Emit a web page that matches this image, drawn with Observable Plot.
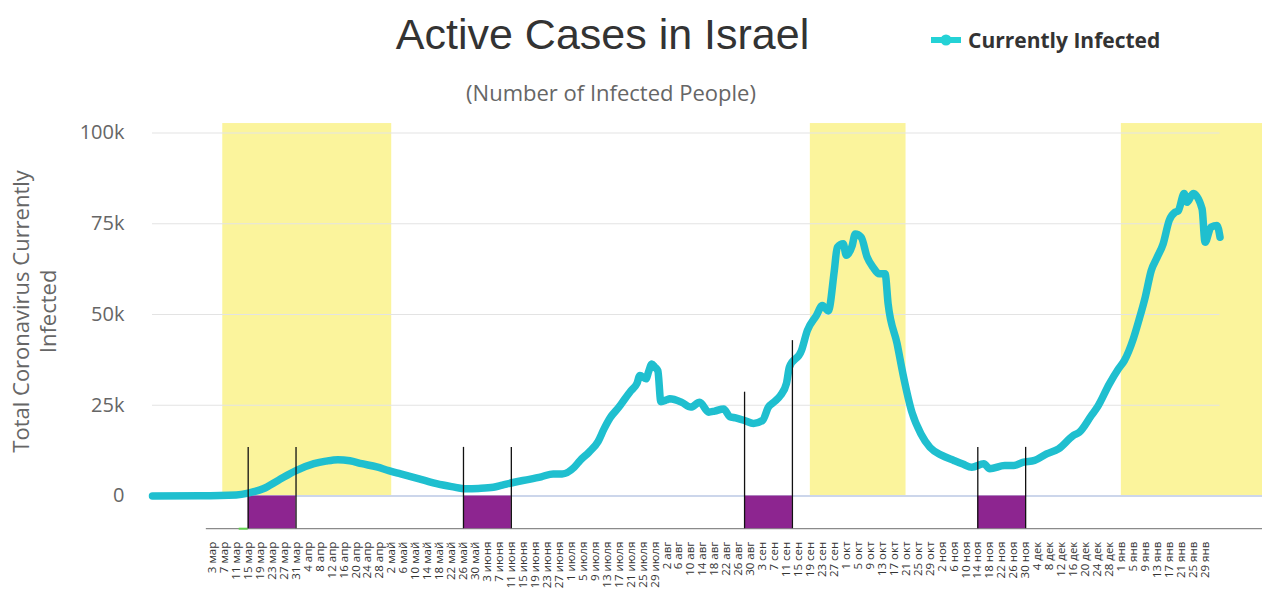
<!DOCTYPE html>
<html>
<head>
<meta charset="utf-8">
<script src="https://cdn.jsdelivr.net/npm/d3@7"></script>
<script src="https://cdn.jsdelivr.net/npm/@observablehq/plot@0.6"></script>
<style>
  html, body { margin: 0; padding: 0; background: #fff; }
  #wrap { position: relative; width: 1262px; height: 593px; overflow: hidden; font-family: "Open Sans", sans-serif; }
  #head { position: relative; height: 110px; }
  #title { position: absolute; left: 0; width: 1205px; top: 13px; text-align: center;
           font: 43px/43px "Liberation Sans", Arial, sans-serif; color: #333; }
  #legend { position: absolute; left: 930px; top: 26px; height: 28px; display: flex; align-items: center;
            font: 700 21px/28px "Open Sans", sans-serif; color: #333; }
  #legend svg { margin-right: 6px; }
  #subtitle { position: absolute; left: 0; width: 1222px; top: 78px; text-align: center;
              font: 22px/28px "Open Sans", sans-serif; color: #666; }
  #chart svg { display: block; }
</style>
</head>
<body>
<div id="wrap">
  <div id="head">
    <div id="title">Active Cases in Israel</div>
    <div id="legend">
      <svg width="32" height="14"><line x1="1" y1="7" x2="31" y2="7" stroke="#24d2d6" stroke-width="6"/><circle cx="16" cy="7" r="5.5" fill="#24d2d6"/></svg>
      <span>Currently Infected</span>
    </div>
    <div id="subtitle">(Number of Infected People)</div>
  </div>
  <div id="chart"></div>
</div>
<script>
// Active coronavirus cases in Israel (people currently infected)
const dates = ["2020-02-12","2020-02-28","2020-03-11","2020-03-15","2020-03-20","2020-03-25","2020-03-31","2020-04-06","2020-04-10","2020-04-14",
  "2020-04-18","2020-04-22","2020-04-27","2020-05-01","2020-05-05","2020-05-09","2020-05-13","2020-05-17","2020-05-22","2020-05-27",
  "2020-05-31","2020-06-05","2020-06-08","2020-06-12","2020-06-17","2020-06-21","2020-06-25","2020-06-28","2020-07-02","2020-07-04",
  "2020-07-07","2020-07-10","2020-07-12","2020-07-14","2020-07-17","2020-07-19","2020-07-21","2020-07-23","2020-07-24","2020-07-26",
  "2020-07-27","2020-07-28","2020-07-29","2020-07-30","2020-07-31","2020-08-02","2020-08-03","2020-08-07","2020-08-10","2020-08-13",
  "2020-08-16","2020-08-18","2020-08-21","2020-08-23","2020-08-25","2020-08-28","2020-08-31","2020-09-03","2020-09-05","2020-09-07",
  "2020-09-09","2020-09-11","2020-09-12","2020-09-16","2020-09-18","2020-09-21","2020-09-23","2020-09-25","2020-09-27","2020-09-28",
  "2020-09-30","2020-10-01","2020-10-03","2020-10-04","2020-10-06","2020-10-08","2020-10-10","2020-10-12","2020-10-14","2020-10-15",
  "2020-10-18","2020-10-20","2020-10-23","2020-10-26","2020-10-29","2020-11-02","2020-11-06","2020-11-09","2020-11-12","2020-11-16",
  "2020-11-18","2020-11-23","2020-11-26","2020-11-29","2020-12-03","2020-12-07","2020-12-11","2020-12-16","2020-12-18","2020-12-22",
  "2020-12-24","2020-12-28","2020-12-31","2021-01-02","2021-01-05","2021-01-07","2021-01-09","2021-01-11","2021-01-13","2021-01-15",
  "2021-01-17","2021-01-19","2021-01-20","2021-01-22","2021-01-23","2021-01-25","2021-01-28","2021-01-29","2021-01-31","2021-02-02",
  "2021-02-03"];
const infected = [0, 50, 300, 800, 2000, 4300, 7000, 8900, 9600, 10000,
  9700, 8900, 8000, 7000, 6100, 5200, 4300, 3400, 2600, 2000,
  2100, 2400, 3000, 3800, 4600, 5300, 6100, 6100, 7900, 9800,
  12100, 15000, 18500, 21500, 24500, 26800, 29000, 31000, 33200, 32300,
  34500, 36400, 35500, 34500, 26000, 26500, 26800, 25800, 24500, 25800,
  23100, 23400, 24000, 21900, 21500, 20800, 20000, 20800, 24500, 26000,
  27700, 31000, 35500, 40000, 45600, 49700, 52500, 51000, 62000, 68500,
  69500, 66300, 69000, 72200, 71300, 65800, 63000, 61200, 61200, 53000,
  42000, 33500, 23000, 17100, 13400, 11200, 9800, 8800, 7900, 8900,
  7500, 8400, 8400, 9300, 9800, 11600, 13000, 16700, 17600, 22200,
  24500, 30900, 35000, 37300, 43300, 48800, 54800, 62100, 65800, 69500,
  75900, 78200, 78500, 83300, 80900, 83300, 79100, 69900, 74100, 74500,
  71300];

// Lockdown periods (yellow bands)
const lockdownStart = ["2020-03-06T12:00Z", "2020-09-19", "2021-01-01"];
const lockdownEnd   = ["2020-05-02", "2020-10-21", "2021-02-18"];

// Two-week windows (purple blocks with bounding markers)
const windowStart    = ["2020-03-15", "2020-05-26", "2020-08-28", "2020-11-14"];
const windowEnd      = ["2020-03-31", "2020-06-11", "2020-09-13", "2020-11-30"];
const windowTopStart = [13400, 13400, 28600, 13400];
const windowTopEnd   = [13400, 13400, 42800, 13400];

// Axis ticks
const yTicks = [0, 25000, 50000, 75000, 100000];
const tickLabels = [
  "3 мар","7 мар","11 мар","15 мар","19 мар","23 мар","27 мар","31 мар",
  "4 апр","8 апр","12 апр","16 апр","20 апр","24 апр","28 апр",
  "2 май","6 май","10 май","14 май","18 май","22 май","26 май","30 май",
  "3 июня","7 июня","11 июня","15 июня","19 июня","23 июня","27 июня",
  "1 июля","5 июля","9 июля","13 июля","17 июля","21 июля","25 июля","29 июля",
  "2 авг","6 авг","10 авг","14 авг","18 авг","22 авг","26 авг","30 авг",
  "3 сен","7 сен","11 сен","15 сен","19 сен","23 сен","27 сен",
  "1 окт","5 окт","9 окт","13 окт","17 окт","21 окт","25 окт","29 окт",
  "2 ноя","6 ноя","10 ноя","14 ноя","18 ноя","22 ноя","26 ноя","30 ноя",
  "4 дек","8 дек","12 дек","16 дек","20 дек","24 дек","28 дек",
  "1 янв","5 янв","9 янв","13 янв","17 янв","21 янв","25 янв","29 янв"];
const monthIndex = {"янв": 0, "мар": 2, "апр": 3, "май": 4, "июня": 5, "июля": 6,
                    "авг": 7, "сен": 8, "окт": 9, "ноя": 10, "дек": 11};

const parse = s => new Date(s);
const series = dates.map((d, i) => ({date: parse(d), value: infected[i]}));
const lockdowns = lockdownStart.map((s, i) => ({start: parse(s), end: parse(lockdownEnd[i])}));
const windows = windowStart.map((s, i) => ({start: parse(s), end: parse(windowEnd[i])}));
const windowEdges = windows.flatMap((w, i) => [
  {date: w.start, top: windowTopStart[i]},
  {date: w.end, top: windowTopEnd[i]}
]);

const tickDates = tickLabels.map(t => {
  const [day, mon] = t.split(" ");
  const m = monthIndex[mon];
  return new Date(Date.UTC(m === 0 ? 2021 : 2020, m, +day));
});
const labelByTime = new Map(tickDates.map((d, i) => [+d, tickLabels[i]]));

const xStart = parse("2020-02-12");
const xEnd = parse("2021-02-17T05:00Z");
const firstDay = series[0].date;
const lastDay = series[series.length - 1].date;
const yMin = -9000, yMax = 103000, bandTop = 102600;

const chart = Plot.plot({
  width: 1262,
  height: 483,
  marginLeft: 152,
  marginRight: 0,
  marginTop: 11.6,
  marginBottom: 64.8,
  style: {fontFamily: '"Open Sans", sans-serif', background: "#fff", overflow: "visible"},
  x: {type: "utc", domain: [xStart, xEnd]},
  y: {domain: [yMin, yMax]},
  marks: [
    Plot.rect(lockdowns, {x1: "start", x2: "end", y1: 0, y2: bandTop, fill: "#fbf49c", clip: true}),
    Plot.ruleY(yTicks.slice(1), {x1: () => firstDay, x2: () => lastDay, stroke: "#e3e3e3", strokeWidth: 1.2}),
    Plot.ruleY([0], {x1: () => firstDay, x2: () => xEnd, stroke: "#ccd6eb", strokeWidth: 2}),
    Plot.ruleY([yMin], {x1: () => parse("2020-03-01"), x2: () => xEnd, stroke: "#8a8a8a", strokeWidth: 1.2}),
    Plot.ruleY([yMin], {x1: () => parse("2020-03-12"), x2: () => parse("2020-03-15"), stroke: "#5fd04c", strokeWidth: 2}),
    Plot.rect(windows, {x1: "start", x2: "end", y1: yMin, y2: 0, fill: "#8d2590"}),
    Plot.line(series, {x: "date", y: "value", stroke: "#1fbfcf", strokeWidth: 7.5,
                       curve: "monotone-x", strokeLinejoin: "round", strokeLinecap: "round"}),
    Plot.ruleX(windowEdges, {x: "date", y1: yMin, y2: "top", stroke: "#111", strokeWidth: 1.3}),
    Plot.axisY({ticks: yTicks, tickFormat: d => d === 0 ? "0" : d / 1000 + "k",
                tickSize: 0, tickPadding: 28, fontSize: 20, fill: "#666", label: null}),
    Plot.axisX({ticks: tickDates, tickFormat: d => labelByTime.get(+d), tickRotate: -90,
                tickSize: 0, tickPadding: 13, fontSize: 11.5, fill: "#333", label: null}),
    Plot.text(["Total Coronavirus Currently\nInfected"], {
      frameAnchor: "left", rotate: -90, textAnchor: "middle", lineAnchor: "middle",
      lineHeight: 1.22, dx: 33.4 - 152, dy: -14, fontSize: 22, fill: "#666"
    })
  ]
});
document.getElementById("chart").append(chart);
</script>
</body>
</html>
